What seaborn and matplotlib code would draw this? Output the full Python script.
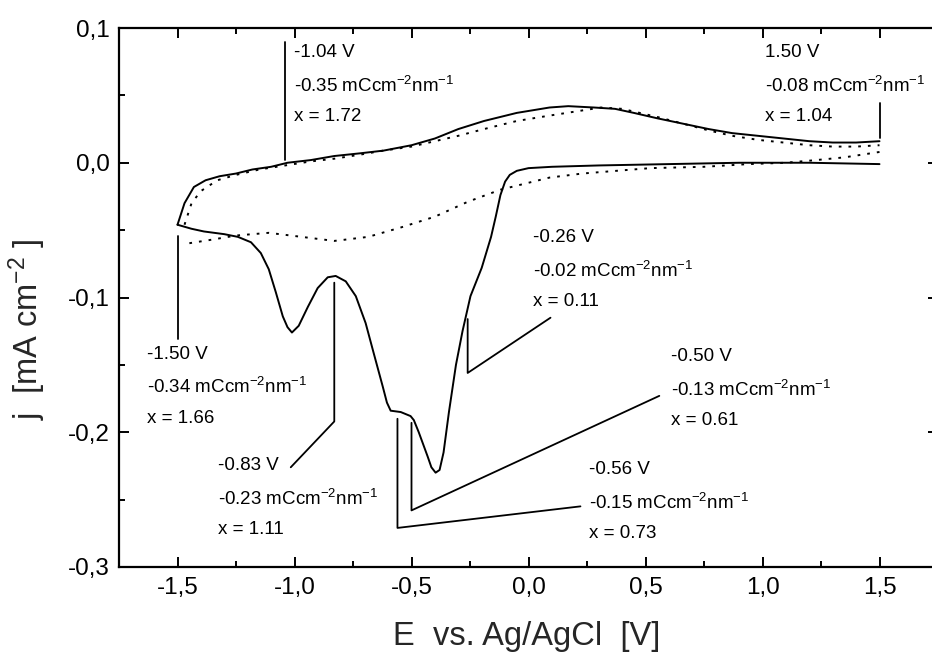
import numpy as np
import pandas as pd
import matplotlib
matplotlib.use("Agg")
import matplotlib.pyplot as plt
import seaborn as sns
from matplotlib.ticker import MultipleLocator, FuncFormatter

# ---------------- data ----------------
# solid CV, anodic sweep (-1.5 -> 1.5)
solid_an_E = [-1.50, -1.47, -1.43, -1.38, -1.32, -1.25, -1.18, -1.10, -1.03, -0.93, -0.83, -0.72,
              -0.62, -0.50, -0.40, -0.30, -0.19, -0.05, 0.09, 0.17, 0.28, 0.37, 0.45, 0.55, 0.66,
              0.77, 0.87, 0.98, 1.09, 1.20, 1.30, 1.40, 1.50]
solid_an_j = [-0.046, -0.030, -0.018, -0.013, -0.010, -0.008, -0.005, -0.003, 0.000, 0.002, 0.005, 0.007,
              0.009, 0.013, 0.018, 0.025, 0.031, 0.037, 0.041, 0.042, 0.041, 0.040, 0.037, 0.033, 0.029,
              0.025, 0.022, 0.020, 0.018, 0.016, 0.015, 0.015, 0.016]
# solid CV, cathodic sweep (1.5 -> -1.5)
solid_ca_E = [1.50, 1.20, 0.90, 0.60, 0.30, 0.10, 0.00, -0.05, -0.08, -0.10, -0.12, -0.14, -0.16,
              -0.20, -0.248, -0.282, -0.31, -0.34, -0.363, -0.38, -0.397, -0.415, -0.431, -0.45,
              -0.469, -0.49, -0.504, -0.546, -0.589, -0.605, -0.623, -0.662, -0.696, -0.738, -0.781,
              -0.824, -0.858, -0.901, -0.943, -0.982, -1.011, -1.03, -1.05, -1.08, -1.11, -1.144,
              -1.186, -1.242, -1.30, -1.387, -1.44, -1.50]
solid_ca_j = [-0.001, 0.000, 0.000, -0.001, -0.002, -0.003, -0.004, -0.006, -0.009, -0.014, -0.024, -0.040, -0.055,
              -0.078, -0.099, -0.125, -0.150, -0.185, -0.215, -0.228, -0.230, -0.226, -0.218, -0.209,
              -0.200, -0.191, -0.188, -0.185, -0.184, -0.178, -0.166, -0.141, -0.119, -0.099, -0.088,
              -0.084, -0.085, -0.093, -0.107, -0.121, -0.126, -0.122, -0.114, -0.096, -0.079, -0.067,
              -0.059, -0.055, -0.053, -0.051, -0.049, -0.046]

# dotted CV, anodic and cathodic sweeps
dot_an_E = [-1.47, -1.44, -1.40, -1.33, -1.25, -1.15, -1.04, -0.93, -0.83, -0.72, -0.62, -0.50, -0.40,
            -0.30, -0.19, -0.05, 0.09, 0.20, 0.31, 0.40, 0.45, 0.55, 0.66, 0.77, 0.87, 0.98, 1.09, 1.20,
            1.30, 1.40, 1.50]
dot_an_j = [-0.046, -0.030, -0.021, -0.013, -0.009, -0.005, -0.002, 0.001, 0.003, 0.006, 0.009, 0.012, 0.016,
            0.020, 0.025, 0.031, 0.035, 0.038, 0.041, 0.040, 0.038, 0.034, 0.029, 0.024, 0.020, 0.017, 0.015, 0.013,
            0.012, 0.012, 0.013]
dot_ca_E = [1.50, 1.35, 1.23, 1.10, 0.94, 0.75, 0.52, 0.23, 0.09, -0.12, -0.26, -0.40, -0.545, -0.685,
            -0.78, -0.83, -0.97, -1.11, -1.25, -1.35, -1.46]
dot_ca_j = [0.008, 0.004, 0.002, 0.000, -0.001, -0.003, -0.004, -0.008, -0.011, -0.020, -0.029, -0.040, -0.048, -0.055,
            -0.057, -0.058, -0.055, -0.052, -0.054, -0.057, -0.060]

# annotations: label lines, text anchor (E, j of first line), leader polyline
ann_labels = [
    ["-1.04 V", "-0.35 mCcm$^{-2}$nm$^{-1}$", "x = 1.72"],
    ["1.50 V", "-0.08 mCcm$^{-2}$nm$^{-1}$", "x = 1.04"],
    ["-0.26 V", "-0.02 mCcm$^{-2}$nm$^{-1}$", "x = 0.11"],
    ["-1.50 V", "-0.34 mCcm$^{-2}$nm$^{-1}$", "x = 1.66"],
    ["-0.83 V", "-0.23 mCcm$^{-2}$nm$^{-1}$", "x = 1.11"],
    ["-0.50 V", "-0.13 mCcm$^{-2}$nm$^{-1}$", "x = 0.61"],
    ["-0.56 V", "-0.15 mCcm$^{-2}$nm$^{-1}$", "x = 0.73"],
]
ann_text_E = [-1.003, 1.012, 0.021, -1.630, -1.327, 0.610, 0.260]
ann_text_j = [0.0815, 0.0815, -0.0556, -0.142, -0.225, -0.144, -0.228]
ann_leader_E = [[-1.04, -1.04], [1.50, 1.50], [-0.26, -0.26, 0.094], [-1.50, -1.50],
                [-1.016, -0.83, -0.83], [0.559, -0.50, -0.50], [0.222, -0.56, -0.56]]
ann_leader_j = [[0.0896, 0.002], [0.044, 0.0185], [-0.116, -0.156, -0.115], [-0.054, -0.131],
                [-0.226, -0.192, -0.089], [-0.173, -0.258, -0.193], [-0.255, -0.271, -0.190]]
line_step = [0.0, -0.0245, -0.0475]

xticks = [-1.5, -1.0, -0.5, 0.0, 0.5, 1.0, 1.5]
yticks = [-0.3, -0.2, -0.1, 0.0, 0.1]

# ---------------- plot ----------------
sns.set_style("ticks")
plt.rcParams['font.family'] = ['Liberation Sans', 'DejaVu Sans']
plt.rcParams['mathtext.fontset'] = 'custom'
plt.rcParams['mathtext.rm'] = 'Liberation Sans'
plt.rcParams['mathtext.it'] = 'Liberation Sans'
plt.rcParams['mathtext.bf'] = 'Liberation Sans'

fig = plt.figure(figsize=(9.32, 6.56), dpi=100)
ax = fig.add_axes([119 / 932, 1 - 567 / 656, (938 - 119) / 932, (567 - 28) / 656])

df_s = pd.concat([
    pd.DataFrame({"E": solid_an_E, "j": solid_an_j, "sweep": "anodic"}),
    pd.DataFrame({"E": solid_ca_E, "j": solid_ca_j, "sweep": "cathodic"}),
], ignore_index=True)
df_d = pd.concat([
    pd.DataFrame({"E": dot_an_E, "j": dot_an_j, "sweep": "anodic"}),
    pd.DataFrame({"E": dot_ca_E, "j": dot_ca_j, "sweep": "cathodic"}),
], ignore_index=True)
sns.lineplot(data=df_s, x="E", y="j", units="sweep", sort=False, estimator=None,
             color="black", lw=1.4, ax=ax)
sns.lineplot(data=df_d, x="E", y="j", units="sweep", sort=False, estimator=None,
             color="black", lw=1.4, linestyle=(0, (1.4, 3.6)), ax=ax)

for labels, tE, tj, lE, lj in zip(ann_labels, ann_text_E, ann_text_j, ann_leader_E, ann_leader_j):
    ax.plot(lE, lj, color="black", lw=1.3)
    for k, s in enumerate(labels):
        ax.text(tE, tj + line_step[k], s, ha="left", va="center", fontsize=13.5, color="black")

ax.set_xlim(-1.75, 1.75)
ax.set_ylim(-0.3, 0.1)
ax.set_xticks(xticks)
ax.set_yticks(yticks)
ax.xaxis.set_minor_locator(MultipleLocator(0.25))
ax.yaxis.set_minor_locator(MultipleLocator(0.05))
comma = FuncFormatter(lambda v, p: ("0,0" if abs(v) < 1e-9 else f"{v:.1f}".replace(".", ",")))
ax.xaxis.set_major_formatter(comma)
ax.yaxis.set_major_formatter(comma)
ax.tick_params(which="both", direction="in", top=True, right=True, width=1.4, colors="black",
               labelsize=17.5)
ax.tick_params(which="major", length=7)
ax.tick_params(which="minor", length=4)
ax.tick_params(axis="x", pad=7)
ax.tick_params(axis="y", pad=6.5)
for sp in ax.spines.values():
    sp.set_linewidth(1.6)
    sp.set_color("black")
    sp.set_visible(True)

ax.set_xlabel("E  vs. Ag/AgCl  [V]", fontsize=23.5, va="center")
ax.xaxis.set_label_coords((527 - 119) / 819, (567 - 636.5) / 539)
ax.set_ylabel("j  [mA cm$^{-2}$ ]", fontsize=23.5, va="center")
ax.yaxis.set_label_coords((27 - 119) / 819, (567 - 329) / 539)

fig.savefig("out.png", dpi=100)
